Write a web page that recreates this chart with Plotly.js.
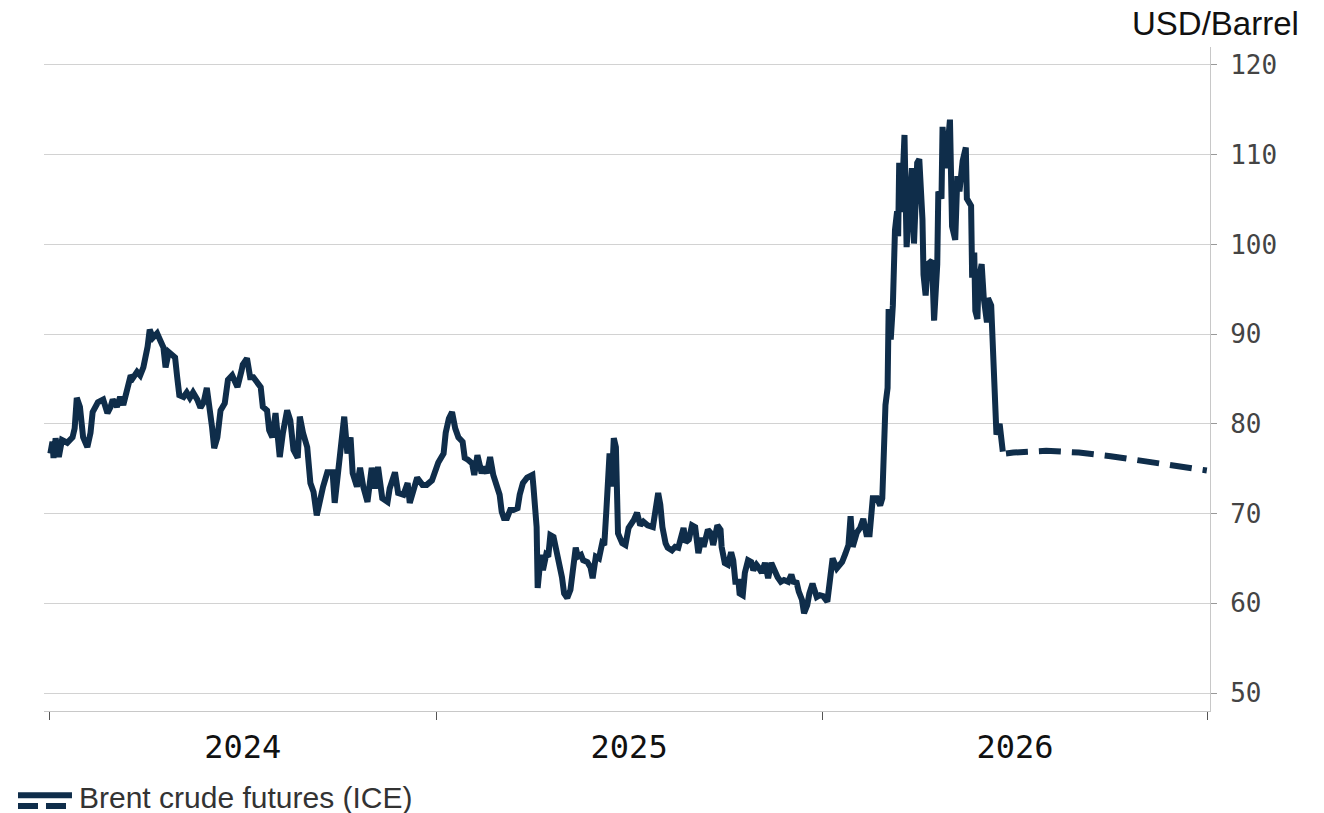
<!DOCTYPE html>
<html>
<head>
<meta charset="utf-8">
<script src="https://cdn.plot.ly/plotly-3.0.1.min.js"></script>
<style>
html,body{margin:0;padding:0;background:#fff;}
#chart{width:1324px;height:813px;}
</style>
</head>
<body>
<div id="chart"></div>
<script>
// Brent crude futures (ICE), USD/Barrel — historical series
const dates = [
"2024-01-02","2024-01-04","2024-01-05","2024-01-07","2024-01-10","2024-01-13","2024-01-18","2024-01-23","2024-01-25","2024-01-27","2024-01-30",
"2024-02-02","2024-02-06","2024-02-09","2024-02-11","2024-02-13","2024-02-16","2024-02-21","2024-02-25","2024-02-28",
"2024-03-01","2024-03-05","2024-03-08","2024-03-11","2024-03-15","2024-03-18","2024-03-20","2024-03-24","2024-03-27","2024-03-30",
"2024-04-03","2024-04-05","2024-04-08","2024-04-12","2024-04-15","2024-04-18","2024-04-20","2024-04-23","2024-04-26","2024-04-29",
"2024-05-01","2024-05-03","2024-05-07","2024-05-10","2024-05-13","2024-05-16","2024-05-20","2024-05-23","2024-05-26","2024-05-29",
"2024-06-03","2024-06-05","2024-06-08","2024-06-11","2024-06-15","2024-06-18","2024-06-22","2024-06-27",
"2024-07-01","2024-07-02","2024-07-06","2024-07-09","2024-07-12","2024-07-16","2024-07-19","2024-07-21","2024-07-25","2024-07-27","2024-07-30",
"2024-08-02","2024-08-04","2024-08-06","2024-08-09","2024-08-13","2024-08-16","2024-08-19","2024-08-23","2024-08-25","2024-08-28",
"2024-09-01","2024-09-04","2024-09-07","2024-09-10","2024-09-13","2024-09-16","2024-09-20","2024-09-25","2024-09-27","2024-09-30",
"2024-10-04","2024-10-06","2024-10-09","2024-10-12","2024-10-14","2024-10-18","2024-10-21","2024-10-24","2024-10-28",
"2024-11-01","2024-11-04","2024-11-07","2024-11-11","2024-11-16","2024-11-18","2024-11-23","2024-11-26",
"2024-12-01","2024-12-05","2024-12-07","2024-12-10","2024-12-14","2024-12-19","2024-12-23","2024-12-28","2024-12-31",
"2025-01-03","2025-01-08","2025-01-10","2025-01-13","2025-01-16","2025-01-19","2025-01-22","2025-01-26","2025-01-28","2025-01-31",
"2025-02-04","2025-02-06","2025-02-09","2025-02-13","2025-02-15","2025-02-18","2025-02-21","2025-02-24","2025-02-28",
"2025-03-02","2025-03-04","2025-03-06","2025-03-09","2025-03-12","2025-03-15","2025-03-19","2025-03-21","2025-03-24","2025-03-28",
"2025-04-02","2025-04-03","2025-04-06","2025-04-07","2025-04-10","2025-04-12","2025-04-15","2025-04-17","2025-04-19","2025-04-22","2025-04-25","2025-04-27","2025-04-30",
"2025-05-02","2025-05-05","2025-05-08","2025-05-11","2025-05-13","2025-05-15","2025-05-18","2025-05-20","2025-05-24","2025-05-27","2025-05-29",
"2025-06-01","2025-06-04","2025-06-07","2025-06-09","2025-06-11","2025-06-13","2025-06-14","2025-06-16","2025-06-18","2025-06-20","2025-06-22","2025-06-26","2025-06-29",
"2025-07-02","2025-07-04","2025-07-07","2025-07-10","2025-07-13","2025-07-16","2025-07-20","2025-07-25","2025-07-28","2025-07-30",
"2025-08-01","2025-08-03","2025-08-06","2025-08-08","2025-08-12","2025-08-15","2025-08-18","2025-08-21","2025-08-23","2025-08-25","2025-08-28","2025-08-31",
"2025-09-03","2025-09-06","2025-09-09","2025-09-11","2025-09-15","2025-09-18","2025-09-20","2025-09-24","2025-09-27","2025-09-28",
"2025-10-01","2025-10-04","2025-10-07","2025-10-09","2025-10-11","2025-10-14","2025-10-15","2025-10-18","2025-10-20","2025-10-23","2025-10-26","2025-10-28","2025-10-31",
"2025-11-02","2025-11-05","2025-11-08","2025-11-11","2025-11-14","2025-11-17","2025-11-20","2025-11-23","2025-11-26","2025-11-30",
"2025-12-03","2025-12-05","2025-12-08","2025-12-10","2025-12-13","2025-12-15","2025-12-18","2025-12-20","2025-12-23","2025-12-24","2025-12-27","2025-12-30",
"2026-01-02","2026-01-06","2026-01-09","2026-01-11","2026-01-15","2026-01-20","2026-01-23","2026-01-26","2026-01-28","2026-01-30",
"2026-02-03","2026-02-06","2026-02-09","2026-02-12","2026-02-15","2026-02-18","2026-02-22","2026-02-25","2026-02-27","2026-02-28",
"2026-03-02","2026-03-04","2026-03-05","2026-03-07","2026-03-09","2026-03-11","2026-03-13","2026-03-14","2026-03-15","2026-03-17","2026-03-20","2026-03-22","2026-03-24","2026-03-27","2026-03-29",
"2026-04-01","2026-04-03","2026-04-06","2026-04-07","2026-04-09","2026-04-11","2026-04-15","2026-04-17","2026-04-20","2026-04-21","2026-04-24","2026-04-25","2026-04-28",
"2026-05-02","2026-05-04","2026-05-07","2026-05-09","2026-05-11","2026-05-14","2026-05-17","2026-05-18","2026-05-22","2026-05-23","2026-05-25","2026-05-26","2026-05-28","2026-05-29",
"2026-06-01","2026-06-03","2026-06-06","2026-06-07","2026-06-10","2026-06-12","2026-06-14","2026-06-15","2026-06-18","2026-06-21"
];
const prices = [
76.7,78.0,76.2,78.4,76.3,78.2,77.9,78.5,79.5,82.9,81.9,
78.5,77.4,79.0,81.3,81.8,82.4,82.7,81.2,81.9,
82.7,81.9,83.0,82.1,84.1,85.4,85.1,85.8,85.4,86.3,
88.6,90.5,89.6,90.1,89.3,88.5,86.3,88.0,87.7,87.4,
85.2,83.2,83.0,83.5,82.9,83.5,82.7,81.8,82.4,84.0,
79.6,77.3,78.5,81.5,82.3,84.9,85.4,84.1,
86.0,86.6,87.3,85.2,85.2,84.7,84.1,81.9,81.5,79.3,78.5,
81.2,78.2,76.3,79.0,81.5,80.4,77.1,76.2,80.8,79.0,
77.4,73.4,72.4,69.8,71.8,73.0,74.6,74.6,71.2,74.5,
77.4,80.8,76.7,78.5,74.5,73.0,75.1,73.0,71.3,
75.1,72.8,75.2,71.7,71.3,72.8,74.6,72.3,
72.1,73.4,71.2,72.4,74.0,73.2,73.2,73.7,74.6,
75.7,76.7,79.0,80.6,81.3,79.5,78.5,78.0,76.2,76.0,
75.6,74.3,76.5,74.5,75.2,74.5,76.3,74.3,72.4,
72.1,70.2,69.5,69.5,70.4,70.4,70.6,72.1,73.4,74.0,
74.3,73.0,68.5,61.7,65.4,63.7,65.4,65.2,67.6,67.4,65.7,65.2,62.9,
61.1,60.6,61.5,64.0,66.2,65.2,65.4,64.8,64.6,64.0,62.8,
65.2,65.0,66.7,66.5,70.4,74.1,76.7,73.0,78.4,77.4,67.8,66.7,66.5,
68.4,68.7,69.3,70.1,68.7,69.1,68.7,68.5,70.7,72.3,
71.0,68.5,66.7,66.2,65.9,66.3,66.2,67.4,68.4,66.8,67.1,68.7,
68.5,65.6,67.3,66.3,68.2,67.8,66.5,68.7,68.2,66.3,
64.5,64.3,65.7,64.8,62.4,62.4,61.1,60.9,63.4,64.8,64.6,63.7,64.3,
64.0,63.4,64.5,62.8,64.5,63.5,62.9,62.4,62.6,62.4,
63.2,62.4,62.3,61.3,60.4,58.9,59.8,61.1,62.2,61.8,60.7,60.9,
60.8,60.2,62.7,65.0,63.9,64.6,65.5,66.5,69.7,66.3,
67.9,68.4,69.4,67.7,67.7,71.7,71.7,70.9,71.7,75.9,
82.1,84.0,92.8,89.4,93.2,101.6,103.7,100.9,109.1,103.6,112.2,99.7,103.6,108.5,100.1,
109.1,109.5,102.8,96.6,94.3,97.8,98.2,91.5,97.8,105.9,105.1,113.1,108.5,
113.9,102.0,100.5,107.6,105.9,109.3,110.8,105.1,104.3,96.3,99.1,92.6,91.7,95.9,
97.8,94.0,91.3,94.0,93.2,85.5,79.4,78.8,80.0,76.9
];
// Forward curve (dashed)
const futDates = ["2026-06-24","2026-07-01","2026-08-01","2026-09-01","2026-10-01","2026-11-01","2026-12-01","2026-12-31"];
const futPrices = [76.7,76.8,77.0,76.8,76.4,75.9,75.4,74.8];

const yTicks = [50,60,70,80,90,100,110,120];
const unitLabel = "USD/Barrel";
const seriesName = "Brent crude futures (ICE)";

const navy = "#0f2d4a";
const monoFont = "DejaVu Sans Mono, Liberation Mono, monospace";
const sansFont = "Liberation Sans, Arial, sans-serif";

const traces = [
  {x: dates, y: prices, type: "scatter", mode: "lines",
   line: {color: navy, width: 6, shape: "linear"}, hoverinfo: "skip", showlegend: false},
  {x: futDates, y: futPrices, type: "scatter", mode: "lines",
   line: {color: navy, width: 6, dash: "22px,11px"}, hoverinfo: "skip", showlegend: false}
];

const layout = {
  width: 1324, height: 813,
  margin: {l: 44, r: 114, t: 47, b: 102},
  paper_bgcolor: "#ffffff", plot_bgcolor: "#ffffff",
  showlegend: false,
  xaxis: {
    type: "date",
    range: ["2023-12-27", "2027-01-03"],
    tick0: "2024-01-01", dtick: "M12",
    ticklabelmode: "period",
    tickformat: "%Y",
    ticks: "outside", ticklen: 8, tickwidth: 1, tickcolor: "#555",
    showline: true, linecolor: "#c8c8c8", linewidth: 1,
    showgrid: false, zeroline: false,
    tickfont: {family: monoFont, size: 32, color: "#111"}
  },
  yaxis: {
    side: "right",
    range: [48, 122],
    tickvals: yTicks,
    ticks: "outside", ticklen: 6, tickwidth: 1, tickcolor: "#999",
    ticklabelstandoff: 8,
    showline: true, linecolor: "#c8c8c8", linewidth: 1,
    showgrid: true, gridcolor: "#d2d2d2", gridwidth: 1,
    zeroline: false,
    tickfont: {family: monoFont, size: 26, color: "#444"}
  },
  annotations: [
    {text: unitLabel, xref: "paper", yref: "paper", x: 1.078, y: 1.036,
     xanchor: "right", yanchor: "middle", showarrow: false,
     font: {family: sansFont, size: 33, color: "#111"}},
    {text: seriesName, xref: "paper", yref: "paper", x: 0.029, y: -0.131,
     xanchor: "left", yanchor: "middle", showarrow: false, borderpad: 0,
     font: {family: sansFont, size: 30, color: "#333"}}
  ],
  shapes: [
    {type: "line", xref: "paper", yref: "paper", x0: -0.0223, x1: 0.024, y0: -0.127, y1: -0.127,
     line: {color: navy, width: 6}},
    {type: "line", xref: "paper", yref: "paper", x0: -0.0223, x1: 0.024, y0: -0.143, y1: -0.143,
     line: {color: navy, width: 6, dash: "20px,8px"}}
  ]
};

Plotly.newPlot("chart", traces, layout, {displayModeBar: false, staticPlot: true});
</script>
</body>
</html>
